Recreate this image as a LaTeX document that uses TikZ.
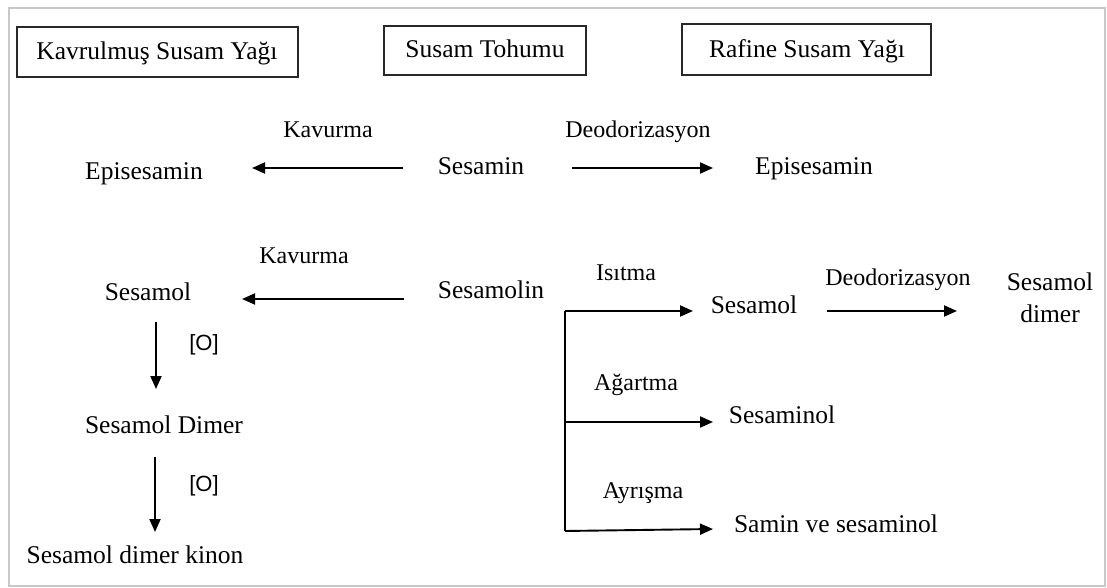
\documentclass[tikz,border=0pt]{standalone}
\usepackage{fontspec}
\setmainfont{Liberation Serif}
\newfontfamily\sansf{Liberation Sans}
\usetikzlibrary{arrows.meta}
\definecolor{framegray}{RGB}{200,200,200}
\definecolor{boxline}{RGB}{40,40,40}
\tikzset{
  txt/.style={inner sep=0pt, anchor=base, font=\fontsize{25.5}{30}\selectfont},
  lbl/.style={inner sep=0pt, anchor=base, font=\fontsize{24}{28}\selectfont},
  oxlbl/.style={inner sep=0pt, anchor=base, font=\sansf\fontsize{22}{26}\selectfont},
  titlebox/.style={draw=boxline, line width=2pt, inner sep=0pt,
    font=\fontsize{25.5}{30}\selectfont},
  arr/.style={line width=1.9pt, -{Triangle[length=13pt,width=11pt]}},
  branch/.style={line width=1.9pt}
}
\begin{document}
\begin{tikzpicture}[x=1pt,y=-1pt]
\useasboundingbox (0,0) rectangle (1107,588);
% outer frame
\draw[framegray, line width=2pt] (9,8) rectangle (1105,586);

% title boxes
\draw[titlebox] (17,27) rectangle (298,77);
\node[txt] (kavrulmus) at (157,60) {Kavrulmuş Susam Yağı};
\draw[titlebox] (384,26) rectangle (586,75);
\node[txt] (tohum) at (485,58) {Susam Tohumu};
\draw[titlebox] (682,24) rectangle (931,75);
\node[txt] (rafine) at (807,58) {Rafine Susam Yağı};

% sesamin row
\node[txt] (epiL) at (144,179) {Episesamin};
\node[txt] (sesamin) at (481,175) {Sesamin};
\node[txt] (epiR) at (814,175) {Episesamin};
\node[lbl] (kav1) at (328,138) {Kavurma};
\node[lbl] (deo1) at (638,138) {Deodorizasyon};
\coordinate (s1a) at (403,168);
\coordinate (s1b) at (252,168);
\coordinate (s2a) at (572,168);
\coordinate (s2b) at (713,168);
\draw[arr] (s1a) -- (s1b);
\draw[arr] (s2a) -- (s2b);

% sesamolin, roasting side
\node[txt] (sesamolin) at (491,298) {Sesamolin};
\node[txt] (sesamolL) at (148,300) {Sesamol};
\node[lbl] (kav2) at (304,263) {Kavurma};
\coordinate (m1a) at (404,299);
\coordinate (m1b) at (242,299);
\draw[arr] (m1a) -- (m1b);

\node[txt] (dimer) at (164,433) {Sesamol Dimer};
\node[txt] (kinon) at (135,563) {Sesamol dimer kinon};
\node[oxlbl] (ox1) at (204,350) {[O]};
\node[oxlbl] (ox2) at (204,491) {[O]};
\coordinate (d1a) at (156,322);
\coordinate (d1b) at (156,389);
\coordinate (d2a) at (155,457);
\coordinate (d2b) at (155,532);
\draw[arr] (d1a) -- (d1b);
\draw[arr] (d2a) -- (d2b);

% sesamolin, refining side
\coordinate (b1) at (565,311);
\coordinate (b2) at (565,422);
\coordinate (b3) at (565,531);
\coordinate (t1) at (693,311);
\coordinate (t2) at (713,422);
\coordinate (t3) at (713,529);
\draw[branch] (b1) -- (b3);
\draw[arr] (b1) -- (t1);
\draw[arr] (b2) -- (t2);
\draw[arr] (b3) -- (t3);

\node[lbl] (isitma) at (626,280) {Isıtma};
\node[lbl] (agartma) at (636,390) {Ağartma};
\node[lbl] (ayrisma) at (643,498) {Ayrışma};
\node[txt] (sesamolR) at (754,313) {Sesamol};
\node[txt] (sesaminol) at (782,423) {Sesaminol};
\node[txt] (samin) at (836,532) {Samin ve sesaminol};

\node[lbl] (deo2) at (898,285) {Deodorizasyon};
\node[txt] (dimR1) at (1050,290) {Sesamol};
\node[txt] (dimR2) at (1050,322) {dimer};
\coordinate (r1a) at (827,311);
\coordinate (r1b) at (957,311);
\draw[arr] (r1a) -- (r1b);
\end{tikzpicture}
\end{document}
